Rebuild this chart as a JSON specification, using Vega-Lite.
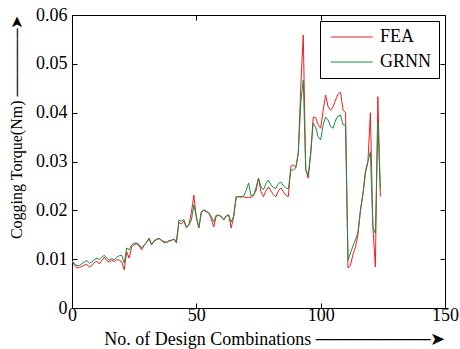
{
  "$schema": "https://vega.github.io/schema/vega-lite/v6.json",
  "width": 373,
  "height": 293,
  "autosize": "none",
  "padding": {"left": 72, "top": 15, "right": 15, "bottom": 41},
  "background": "white",
  "config": {
    "font": "Liberation Serif",
    "view": {"stroke": "black", "strokeWidth": 1},
    "axis": {"grid": false, "domainColor": "black", "tickColor": "black", "labelColor": "black", "titleColor": "black", "labelFont": "Liberation Serif", "titleFont": "Liberation Serif", "titleFontWeight": "normal"}
  },
  "data": {"values": [
    {"n":0,"FEA":0.0095,"GRNN":0.0097},{"n":1,"FEA":0.0088,"GRNN":0.0090},{"n":2,"FEA":0.0082,"GRNN":0.0087},{"n":3,"FEA":0.0083,"GRNN":0.0087},
    {"n":4,"FEA":0.0085,"GRNN":0.0091},{"n":5,"FEA":0.0088,"GRNN":0.0094},{"n":6,"FEA":0.0089,"GRNN":0.0097},{"n":7,"FEA":0.0084,"GRNN":0.0092},
    {"n":8,"FEA":0.0087,"GRNN":0.0094},{"n":9,"FEA":0.0093,"GRNN":0.0099},{"n":10,"FEA":0.0096,"GRNN":0.0102},{"n":11,"FEA":0.0090,"GRNN":0.0099},
    {"n":12,"FEA":0.0097,"GRNN":0.0104},{"n":13,"FEA":0.0104,"GRNN":0.0108},{"n":14,"FEA":0.0097,"GRNN":0.0102},{"n":15,"FEA":0.0094,"GRNN":0.0098},
    {"n":16,"FEA":0.0098,"GRNN":0.0101},{"n":17,"FEA":0.0095,"GRNN":0.0099},{"n":18,"FEA":0.0099,"GRNN":0.0104},{"n":19,"FEA":0.0098,"GRNN":0.0107},
    {"n":20,"FEA":0.0095,"GRNN":0.0108},{"n":21,"FEA":0.0078,"GRNN":0.0092},{"n":22,"FEA":0.0115,"GRNN":0.0123},{"n":23,"FEA":0.0102,"GRNN":0.0119},
    {"n":24,"FEA":0.0125,"GRNN":0.0129},{"n":25,"FEA":0.0130,"GRNN":0.0133},{"n":26,"FEA":0.0131,"GRNN":0.0133},{"n":27,"FEA":0.0127,"GRNN":0.0130},
    {"n":28,"FEA":0.0119,"GRNN":0.0123},{"n":29,"FEA":0.0128,"GRNN":0.0129},{"n":30,"FEA":0.0134,"GRNN":0.0135},{"n":31,"FEA":0.0142,"GRNN":0.0143},
    {"n":32,"FEA":0.0129,"GRNN":0.0130},{"n":33,"FEA":0.0137,"GRNN":0.0138},{"n":34,"FEA":0.0140,"GRNN":0.0141},{"n":35,"FEA":0.0142,"GRNN":0.0143},
    {"n":36,"FEA":0.0138,"GRNN":0.0139},{"n":37,"FEA":0.0134,"GRNN":0.0136},{"n":38,"FEA":0.0134,"GRNN":0.0135},{"n":39,"FEA":0.0137,"GRNN":0.0138},
    {"n":40,"FEA":0.0138,"GRNN":0.0139},{"n":41,"FEA":0.0141,"GRNN":0.0141},{"n":42,"FEA":0.0133,"GRNN":0.0137},{"n":43,"FEA":0.0175,"GRNN":0.0180},
    {"n":44,"FEA":0.0172,"GRNN":0.0178},{"n":45,"FEA":0.0178,"GRNN":0.0181},{"n":46,"FEA":0.0164,"GRNN":0.0166},{"n":47,"FEA":0.0170,"GRNN":0.0170},
    {"n":48,"FEA":0.0195,"GRNN":0.0180},{"n":49,"FEA":0.0231,"GRNN":0.0211},{"n":50,"FEA":0.0184,"GRNN":0.0188},{"n":51,"FEA":0.0164,"GRNN":0.0164},
    {"n":52,"FEA":0.0195,"GRNN":0.0197},{"n":53,"FEA":0.0200,"GRNN":0.0201},{"n":54,"FEA":0.0197,"GRNN":0.0198},{"n":55,"FEA":0.0195,"GRNN":0.0195},
    {"n":56,"FEA":0.0182,"GRNN":0.0188},{"n":57,"FEA":0.0166,"GRNN":0.0176},{"n":58,"FEA":0.0188,"GRNN":0.0190},{"n":59,"FEA":0.0190,"GRNN":0.0190},
    {"n":60,"FEA":0.0187,"GRNN":0.0188},{"n":61,"FEA":0.0180,"GRNN":0.0181},{"n":62,"FEA":0.0188,"GRNN":0.0189},{"n":63,"FEA":0.0191,"GRNN":0.0190},
    {"n":64,"FEA":0.0164,"GRNN":0.0176},{"n":65,"FEA":0.0186,"GRNN":0.0188},{"n":66,"FEA":0.0226,"GRNN":0.0228},{"n":67,"FEA":0.0228,"GRNN":0.0228},
    {"n":68,"FEA":0.0227,"GRNN":0.0228},{"n":69,"FEA":0.0228,"GRNN":0.0229},{"n":70,"FEA":0.0226,"GRNN":0.0240},{"n":71,"FEA":0.0227,"GRNN":0.0256},
    {"n":72,"FEA":0.0226,"GRNN":0.0230},{"n":73,"FEA":0.0232,"GRNN":0.0230},{"n":74,"FEA":0.0240,"GRNN":0.0246},{"n":75,"FEA":0.0266,"GRNN":0.0266},
    {"n":76,"FEA":0.0238,"GRNN":0.0248},{"n":77,"FEA":0.0228,"GRNN":0.0242},{"n":78,"FEA":0.0240,"GRNN":0.0255},{"n":79,"FEA":0.0248,"GRNN":0.0262},
    {"n":80,"FEA":0.0240,"GRNN":0.0252},{"n":81,"FEA":0.0232,"GRNN":0.0247},{"n":82,"FEA":0.0228,"GRNN":0.0245},{"n":83,"FEA":0.0240,"GRNN":0.0255},
    {"n":84,"FEA":0.0246,"GRNN":0.0258},{"n":85,"FEA":0.0238,"GRNN":0.0250},{"n":86,"FEA":0.0231,"GRNN":0.0246},{"n":87,"FEA":0.0228,"GRNN":0.0244},
    {"n":88,"FEA":0.0290,"GRNN":0.0282},{"n":89,"FEA":0.0293,"GRNN":0.0283},{"n":90,"FEA":0.0288,"GRNN":0.0287},{"n":91,"FEA":0.0317,"GRNN":0.0317},
    {"n":92,"FEA":0.0453,"GRNN":0.0420},{"n":93,"FEA":0.0559,"GRNN":0.0467},{"n":94,"FEA":0.0283,"GRNN":0.0283},{"n":95,"FEA":0.0266,"GRNN":0.0272},
    {"n":96,"FEA":0.0317,"GRNN":0.0317},{"n":97,"FEA":0.0391,"GRNN":0.0379},{"n":98,"FEA":0.0390,"GRNN":0.0370},{"n":99,"FEA":0.0375,"GRNN":0.0350},
    {"n":100,"FEA":0.0368,"GRNN":0.0344},{"n":101,"FEA":0.0405,"GRNN":0.0375},{"n":102,"FEA":0.0436,"GRNN":0.0391},{"n":103,"FEA":0.0412,"GRNN":0.0385},
    {"n":104,"FEA":0.0405,"GRNN":0.0372},{"n":105,"FEA":0.0412,"GRNN":0.0368},{"n":106,"FEA":0.0426,"GRNN":0.0385},{"n":107,"FEA":0.0438,"GRNN":0.0393},
    {"n":108,"FEA":0.0442,"GRNN":0.0395},{"n":109,"FEA":0.0405,"GRNN":0.0375},{"n":110,"FEA":0.0400,"GRNN":0.0375},{"n":111,"FEA":0.0082,"GRNN":0.0098},
    {"n":112,"FEA":0.0088,"GRNN":0.0113},{"n":113,"FEA":0.0110,"GRNN":0.0127},{"n":114,"FEA":0.0125,"GRNN":0.0140},{"n":115,"FEA":0.0150,"GRNN":0.0155},
    {"n":116,"FEA":0.0200,"GRNN":0.0200},{"n":117,"FEA":0.0235,"GRNN":0.0232},{"n":118,"FEA":0.0280,"GRNN":0.0276},{"n":119,"FEA":0.0300,"GRNN":0.0300},
    {"n":120,"FEA":0.0400,"GRNN":0.0320},{"n":121,"FEA":0.0166,"GRNN":0.0166},{"n":122,"FEA":0.0084,"GRNN":0.0153},{"n":123,"FEA":0.0433,"GRNN":0.0381},
    {"n":124,"FEA":0.0228,"GRNN":0.0245}
  ]},
  "transform": [{"fold": ["FEA", "GRNN"], "as": ["series", "value"]}],
  "layer": [
    {
      "mark": {"type": "line", "strokeWidth": 1, "clip": true},
      "encoding": {
        "x": {"field": "n", "type": "quantitative",
              "scale": {"domain": [0, 150], "nice": false, "zero": false},
              "axis": {"values": [0, 50, 100, 150], "tickSize": -5, "labelPadding": 3, "labelFontSize": 18, "labelFlush": false,
                       "title": "No. of Design Combinations ─────────➤", "titleFontSize": 18, "titleAnchor": "end", "titlePadding": 6}},
        "y": {"field": "value", "type": "quantitative",
              "scale": {"domain": [0, 0.06], "nice": false, "zero": false},
              "axis": {"values": [0, 0.01, 0.02, 0.03, 0.04, 0.05, 0.06], "tickSize": -5, "labelPadding": 10, "labelFontSize": 18, "labelFlush": false,
                       "labelExpr": "datum.value == 0 ? '0' : format(datum.value, '.2f')",
                       "title": "Cogging Torque(Nm) ──────➤", "titleFontSize": 16, "titleAnchor": "end", "titlePadding": 11}},
        "color": {"field": "series", "type": "nominal",
                  "scale": {"domain": ["FEA", "GRNN"], "range": ["#f21f1f", "#1e8a45"]},
                  "legend": {"title": null, "orient": "top-right", "offset": 6, "symbolType": "M-1,0L7,0", "symbolSize": 110, "symbolStrokeWidth": 1,
                             "symbolFillColor": "transparent",
                             "labelFontSize": 18, "labelFont": "Liberation Serif", "labelColor": "black", "labelOffset": 35, "rowPadding": 7,
                             "strokeColor": "black", "fillColor": "white", "padding": 7, "cornerRadius": 0}}
      }
    },
    {
      "mark": {"type": "line", "opacity": 0},
      "encoding": {
        "x": {"field": "n", "type": "quantitative",
              "scale": {"domain": [0, 150], "nice": false, "zero": false},
              "axis": {"orient": "top", "values": [0, 50, 100, 150], "tickSize": -5, "labels": false, "domain": false, "title": null}},
        "y": {"field": "value", "type": "quantitative",
              "scale": {"domain": [0, 0.06], "nice": false, "zero": false},
              "axis": {"orient": "right", "values": [0, 0.01, 0.02, 0.03, 0.04, 0.05, 0.06], "tickSize": -5, "labels": false, "domain": false, "title": null}}
      }
    }
  ],
  "resolve": {"axis": {"x": "independent", "y": "independent"}}
}
